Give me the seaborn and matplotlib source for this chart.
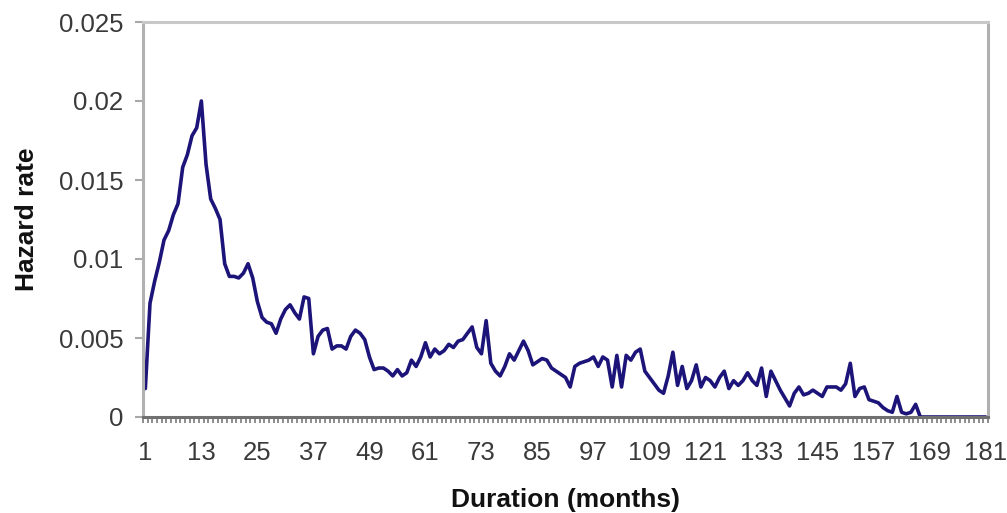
import matplotlib
matplotlib.use("Agg")
import matplotlib.pyplot as plt
import seaborn as sns
import pandas as pd
import numpy as np

# ---- data ----
months = list(range(1, 182))
hazard = [
    0.0018, 0.0072, 0.0086, 0.0098, 0.0112, 0.0118, 0.0128, 0.0135, 0.0158, 0.0166,   # 1-10
    0.0178, 0.0183, 0.0200, 0.0160, 0.0138, 0.0132, 0.0125, 0.0097, 0.0089, 0.0089,   # 11-20
    0.0088, 0.0091, 0.0097, 0.0088, 0.0073, 0.0063, 0.0060, 0.0059, 0.0053, 0.0062,   # 21-30
    0.0068, 0.0071, 0.0066, 0.0062, 0.0076, 0.0075, 0.0040, 0.0051, 0.0055, 0.0056,   # 31-40
    0.0043, 0.0045, 0.0045, 0.0043, 0.0051, 0.0055, 0.0053, 0.0049, 0.0038, 0.0030,   # 41-50
    0.0031, 0.0031, 0.0029, 0.0026, 0.0030, 0.0026, 0.0028, 0.0036, 0.0032, 0.0038,   # 51-60
    0.0047, 0.0038, 0.0043, 0.0040, 0.0042, 0.0046, 0.0044, 0.0048, 0.0049, 0.0053,   # 61-70
    0.0057, 0.0044, 0.0040, 0.0061, 0.0034, 0.0029, 0.0026, 0.0032, 0.0040, 0.0036,   # 71-80
    0.0042, 0.0048, 0.0042, 0.0033, 0.0035, 0.0037, 0.0036, 0.0031, 0.0029, 0.0027,   # 81-90
    0.0025, 0.0019, 0.0032, 0.0034, 0.0035, 0.0036, 0.0038, 0.0032, 0.0038, 0.0036,   # 91-100
    0.0019, 0.0039, 0.0019, 0.0039, 0.0036, 0.0041, 0.0043, 0.0029, 0.0025, 0.0021,   # 101-110
    0.0017, 0.0015, 0.0026, 0.0041, 0.0020, 0.0032, 0.0018, 0.0023, 0.0033, 0.0019,   # 111-120
    0.0025, 0.0023, 0.0019, 0.0025, 0.0029, 0.0018, 0.0023, 0.0020, 0.0023, 0.0028,   # 121-130
    0.0023, 0.0020, 0.0031, 0.0013, 0.0029, 0.0023, 0.0017, 0.0012, 0.0007, 0.0015,   # 131-140
    0.0019, 0.0014, 0.0015, 0.0017, 0.0015, 0.0013, 0.0019, 0.0019, 0.0019, 0.0017,   # 141-150
    0.0021, 0.0034, 0.0013, 0.0018, 0.0019, 0.0011, 0.0010, 0.0009, 0.0006, 0.0004,   # 151-160
    0.0003, 0.0013, 0.0003, 0.0002, 0.0003, 0.0008, 0.0000, 0.0000, 0.0000, 0.0000,   # 161-170
    0.0000, 0.0000, 0.0000, 0.0000, 0.0000, 0.0000, 0.0000, 0.0000, 0.0000, 0.0000,   # 171-180
    0.0000,                                                                             # 181
]
x_ticks = [1, 13, 25, 37, 49, 61, 73, 85, 97, 109, 121, 133, 145, 157, 169, 181]
y_ticks = [0, 0.005, 0.01, 0.015, 0.02, 0.025]
y_tick_labels = ["0", "0.005", "0.01", "0.015", "0.02", "0.025"]
x_label = "Duration (months)"
y_label = "Hazard rate"

df = pd.DataFrame({"month": months, "hazard": hazard})

sns.set_style("white")
plt.rcParams["font.family"] = ["Liberation Sans", "DejaVu Sans"]

fig = plt.figure(figsize=(10.07, 5.13), dpi=100)
W, H = 1007, 513
ax = fig.add_axes([143 / W, 1 - 417 / H, 845 / W, 395 / H])

sns.lineplot(data=df, x="month", y="hazard", ax=ax, color="#1c1478", linewidth=2.6)

ax.set_xlim(0.5, 181.5)
ax.set_ylim(0, 0.025)

ax.set_xticks(x_ticks)
ax.set_xticklabels([str(t) for t in x_ticks])
ax.set_yticks(y_ticks)
ax.set_yticklabels(y_tick_labels)

# category boundary ticks on x axis
ax.set_xticks(np.arange(0.5, 182, 1.0), minor=True)
ax.tick_params(axis="x", which="minor", direction="out", length=4, width=1.2, color="#7a7a7a", bottom=True)
ax.tick_params(axis="x", which="major", length=0, pad=17, labelsize=18.5, labelcolor="#3a3a3a")
ax.tick_params(axis="y", which="major", direction="out", length=6, width=1.5, color="#a8a8a8",
               pad=8, labelsize=18.5, labelcolor="#3a3a3a", left=True)

for side in ["left", "right", "top"]:
    ax.spines[side].set_visible(True)
    ax.spines[side].set_linewidth(2.2)
ax.spines["left"].set_color("#b0b0b0")
ax.spines["right"].set_color("#b0b0b0")
ax.spines["top"].set_color("#c8c8c8")
ax.spines["bottom"].set_color("#707070")
ax.spines["bottom"].set_linewidth(2.2)

ax.set_xlabel(x_label, fontsize=19, fontweight="bold", color="#111111", va="center")
ax.xaxis.set_label_coords(0.5, -0.21)
ax.set_ylabel(y_label, fontsize=19, fontweight="bold", color="#111111", va="center")
ax.yaxis.set_label_coords(-0.137, 0.5)

fig.savefig("out.png", dpi=100)
